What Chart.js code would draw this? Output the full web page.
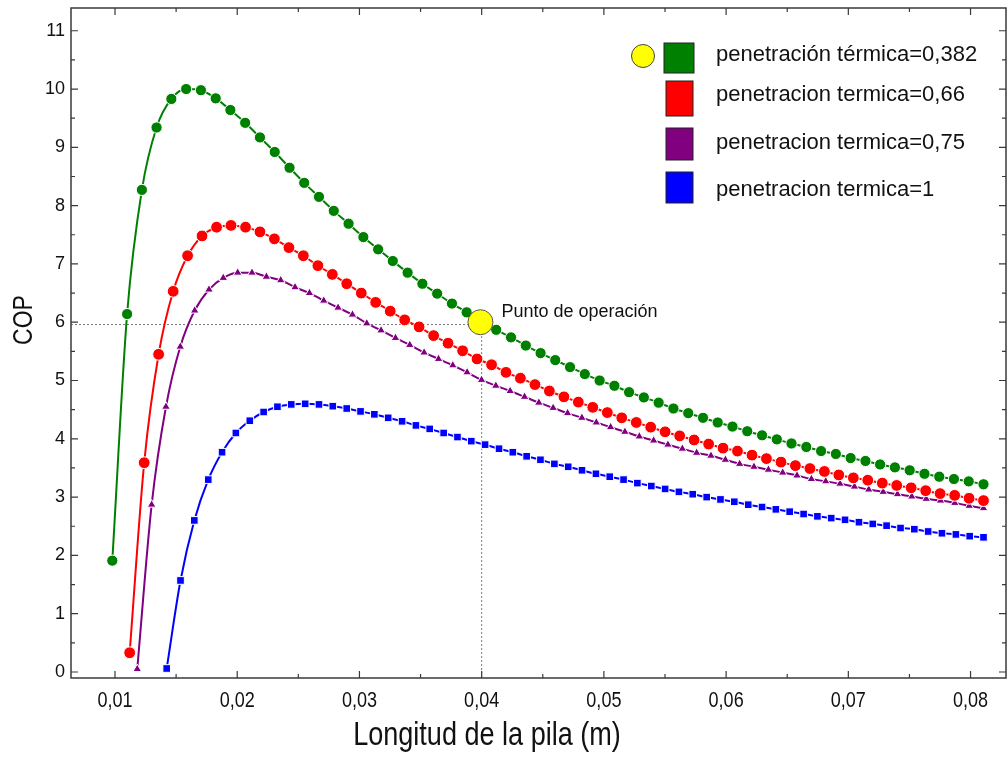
<!DOCTYPE html>
<html>
<head>
<meta charset="utf-8">
<title>COP vs longitud de la pila</title>
<script src="https://cdn.jsdelivr.net/npm/chart.js@4.4.1/dist/chart.umd.min.js"></script>
<style>
  body { margin: 0; background: #fff; overflow: hidden; }
  #wrap { position: relative; width: 1008px; height: 757px; }
  #mycanvas { display: block; }
</style>
</head>
<body>
<div id="wrap"><canvas id="mycanvas"></canvas></div>
<script>
// longitud de la pila (m) for each curve
var xTermica0382 = [0.00978, 0.01099, 0.01220, 0.01340, 0.01461, 0.01582, 0.01703, 0.01824, 0.01944, 0.02065,
  0.02186, 0.02307, 0.02428, 0.02548, 0.02669, 0.02790, 0.02911, 0.03032, 0.03153, 0.03273,
  0.03394, 0.03515, 0.03636, 0.03757, 0.03877, 0.03998, 0.04119, 0.04240, 0.04361, 0.04482,
  0.04602, 0.04723, 0.04844, 0.04965, 0.05086, 0.05206, 0.05327, 0.05448, 0.05569, 0.05690,
  0.05811, 0.05931, 0.06052, 0.06173, 0.06294, 0.06415, 0.06535, 0.06656, 0.06777, 0.06898,
  0.07019, 0.07140, 0.07260, 0.07381, 0.07502, 0.07623, 0.07744, 0.07864, 0.07985, 0.08106];
var copTermica0382 = [1.91, 6.14, 8.27, 9.34, 9.83, 10.00, 9.98, 9.84, 9.64, 9.42,
  9.17, 8.92, 8.65, 8.39, 8.15, 7.91, 7.69, 7.46, 7.25, 7.05,
  6.85, 6.66, 6.49, 6.32, 6.17, 6.01, 5.87, 5.74, 5.60, 5.47,
  5.35, 5.23, 5.11, 5.00, 4.91, 4.80, 4.71, 4.62, 4.52, 4.44,
  4.36, 4.28, 4.21, 4.13, 4.06, 3.99, 3.92, 3.86, 3.79, 3.74,
  3.67, 3.62, 3.56, 3.51, 3.46, 3.40, 3.35, 3.31, 3.27, 3.22];

var xTermica066 = [0.01120, 0.01239, 0.01357, 0.01476, 0.01594, 0.01712, 0.01831, 0.01949, 0.02068, 0.02186,
  0.02304, 0.02423, 0.02541, 0.02660, 0.02778, 0.02896, 0.03015, 0.03133, 0.03252, 0.03370,
  0.03488, 0.03607, 0.03725, 0.03844, 0.03962, 0.04081, 0.04199, 0.04317, 0.04436, 0.04554,
  0.04673, 0.04791, 0.04909, 0.05028, 0.05146, 0.05265, 0.05383, 0.05501, 0.05620, 0.05738,
  0.05857, 0.05975, 0.06093, 0.06212, 0.06330, 0.06449, 0.06567, 0.06686, 0.06804, 0.06922,
  0.07041, 0.07159, 0.07278, 0.07396, 0.07514, 0.07633, 0.07751, 0.07870, 0.07988, 0.08106];
var copTermica066 = [0.33, 3.59, 5.45, 6.53, 7.14, 7.48, 7.63, 7.66, 7.63, 7.55,
  7.43, 7.28, 7.14, 6.97, 6.82, 6.66, 6.50, 6.34, 6.19, 6.04,
  5.92, 5.77, 5.64, 5.51, 5.37, 5.27, 5.14, 5.04, 4.93, 4.82,
  4.72, 4.63, 4.54, 4.45, 4.36, 4.28, 4.20, 4.12, 4.05, 3.98,
  3.91, 3.84, 3.79, 3.72, 3.66, 3.60, 3.54, 3.49, 3.44, 3.38,
  3.33, 3.29, 3.24, 3.20, 3.16, 3.11, 3.06, 3.03, 2.98, 2.94];

var xTermica075 = [0.01182, 0.01300, 0.01417, 0.01534, 0.01652, 0.01769, 0.01886, 0.02004, 0.02121, 0.02239,
  0.02356, 0.02473, 0.02591, 0.02708, 0.02825, 0.02943, 0.03060, 0.03177, 0.03295, 0.03412,
  0.03529, 0.03647, 0.03764, 0.03881, 0.03999, 0.04116, 0.04233, 0.04351, 0.04468, 0.04585,
  0.04703, 0.04820, 0.04938, 0.05055, 0.05172, 0.05290, 0.05407, 0.05524, 0.05642, 0.05759,
  0.05876, 0.05994, 0.06111, 0.06228, 0.06346, 0.06463, 0.06580, 0.06698, 0.06815, 0.06932,
  0.07050, 0.07167, 0.07285, 0.07402, 0.07519, 0.07637, 0.07754, 0.07871, 0.07989, 0.08106];
var copTermica075 = [0.05, 2.87, 4.55, 5.58, 6.20, 6.56, 6.76, 6.85, 6.85, 6.78,
  6.72, 6.60, 6.50, 6.37, 6.25, 6.13, 5.98, 5.86, 5.73, 5.61,
  5.48, 5.37, 5.26, 5.14, 5.01, 4.91, 4.82, 4.72, 4.62, 4.53,
  4.44, 4.36, 4.28, 4.20, 4.12, 4.04, 3.97, 3.90, 3.83, 3.76,
  3.71, 3.64, 3.57, 3.52, 3.47, 3.42, 3.37, 3.31, 3.27, 3.23,
  3.18, 3.13, 3.09, 3.05, 3.01, 2.97, 2.94, 2.90, 2.85, 2.81];

var xTermica1 = [0.01423, 0.01536, 0.01649, 0.01763, 0.01876, 0.01989, 0.02103, 0.02216, 0.02329, 0.02442,
  0.02556, 0.02669, 0.02782, 0.02896, 0.03009, 0.03122, 0.03235, 0.03349, 0.03462, 0.03575,
  0.03689, 0.03802, 0.03915, 0.04028, 0.04142, 0.04255, 0.04368, 0.04481, 0.04595, 0.04708,
  0.04821, 0.04935, 0.05048, 0.05161, 0.05274, 0.05388, 0.05501, 0.05614, 0.05727, 0.05841,
  0.05954, 0.06067, 0.06181, 0.06294, 0.06407, 0.06520, 0.06634, 0.06747, 0.06860, 0.06973,
  0.07087, 0.07200, 0.07313, 0.07427, 0.07540, 0.07653, 0.07766, 0.07880, 0.07993, 0.08106];
var copTermica1 = [0.06, 1.57, 2.60, 3.30, 3.77, 4.10, 4.31, 4.46, 4.55, 4.59,
  4.60, 4.59, 4.56, 4.52, 4.47, 4.42, 4.36, 4.30, 4.23, 4.17,
  4.10, 4.03, 3.96, 3.90, 3.83, 3.77, 3.70, 3.64, 3.57, 3.52,
  3.46, 3.40, 3.35, 3.30, 3.24, 3.19, 3.14, 3.09, 3.05, 3.00,
  2.96, 2.92, 2.87, 2.83, 2.79, 2.75, 2.71, 2.67, 2.64, 2.61,
  2.57, 2.54, 2.51, 2.47, 2.45, 2.41, 2.38, 2.36, 2.33, 2.31];

// punto de operacion
var puntoX = [0.0399];
var puntoY = [6.0];
var guiaHorizX = [0.0064, 0.0399];
var guiaHorizY = [5.96, 5.96];
var guiaVertX = [0.04, 0.04];
var guiaVertY = [5.9, -0.103];

var leyendaTextos = ["penetración térmica=0,382", "penetracion termica=0,66",
  "penetracion termica=0,75", "penetracion termica=1"];
var leyendaColores = ["#008000", "#ff0000", "#800080", "#0000ff"];

var arial = '"Liberation Sans", Arial, sans-serif';

function puntos(xs, ys) {
  var out = [];
  for (var i in xs) {
    out.push({ x: xs[i], y: ys[i] });
  }
  return out;
}

function curva(label, xs, ys, color, forma, radio, orden) {
  return {
    label: label,
    data: puntos(xs, ys),
    showLine: true,
    borderColor: color,
    borderWidth: 2,
    backgroundColor: color,
    pointBackgroundColor: color,
    pointBorderColor: "#ffffff",
    pointBorderWidth: 1,
    pointStyle: forma,
    pointRadius: radio,
    cubicInterpolationMode: "monotone",
    order: orden
  };
}

// narrow text (Arial Narrow look) by squeezing Liberation Sans
function textoAngosto(ctx, txt, x, y, size, rot) {
  ctx.save();
  ctx.translate(x, y);
  if (rot) ctx.rotate(rot);
  ctx.scale(0.82, 1);
  ctx.font = size + "px " + arial;
  ctx.textAlign = "center";
  ctx.textBaseline = "middle";
  ctx.fillText(txt, 0, 0);
  ctx.restore();
}

var marcoPlugin = {
  id: "marco",
  afterDatasetsDraw: function(chart) {
    var ctx = chart.ctx;
    var a = chart.chartArea;
    var sx = chart.scales.x;
    var sy = chart.scales.y;
    ctx.save();
    ctx.strokeStyle = "#3a3a3a";
    ctx.lineWidth = 1.5;
    ctx.strokeRect(a.left, a.top, a.right - a.left, a.bottom - a.top);

    ctx.lineWidth = 1.2;
    ctx.beginPath();
    var xt = sx.ticks.map(function(t) { return t.value; });
    for (var i = 0; i < xt.length; i++) {
      var px = sx.getPixelForValue(xt[i]);
      ctx.moveTo(px, a.bottom); ctx.lineTo(px, a.bottom - 7);
      ctx.moveTo(px, a.top); ctx.lineTo(px, a.top + 7);
      var m = sx.getPixelForValue(xt[i] + 0.005);
      if (m < a.right) {
        ctx.moveTo(m, a.bottom); ctx.lineTo(m, a.bottom - 4);
        ctx.moveTo(m, a.top); ctx.lineTo(m, a.top + 4);
      }
    }
    var yt = sy.ticks.map(function(t) { return t.value; });
    for (var j = 0; j < yt.length; j++) {
      var py = sy.getPixelForValue(yt[j]);
      ctx.moveTo(a.left, py); ctx.lineTo(a.left + 7, py);
      ctx.moveTo(a.right, py); ctx.lineTo(a.right - 7, py);
      var my = sy.getPixelForValue(yt[j] + 0.5);
      if (my > a.top) {
        ctx.moveTo(a.left, my); ctx.lineTo(a.left + 4, my);
        ctx.moveTo(a.right, my); ctx.lineTo(a.right - 4, my);
      }
    }
    ctx.stroke();

    // etiquetas del eje x y titulos
    ctx.fillStyle = "#111";
    for (var t = 0; t < xt.length; t++) {
      textoAngosto(ctx, xt[t].toFixed(2).replace(".", ","), sx.getPixelForValue(xt[t]), a.bottom + 23, 22);
    }
    textoAngosto(ctx, "Longitud de la pila (m)", 487, 736, 33);
    textoAngosto(ctx, "COP", 24, 320, 28, -Math.PI / 2);

    // etiqueta del punto de operacion
    var ox = sx.getPixelForValue(puntoX[0]);
    var oy = sy.getPixelForValue(puntoY[0]);
    ctx.font = "18px " + arial;
    ctx.textAlign = "left";
    ctx.textBaseline = "middle";
    ctx.fillText("Punto de operación", ox + 21, oy - 10);

    // leyenda
    ctx.beginPath();
    ctx.arc(643, 56, 11.5, 0, Math.PI * 2);
    ctx.fillStyle = "#ffff00";
    ctx.fill();
    ctx.lineWidth = 1;
    ctx.strokeStyle = "#444";
    ctx.stroke();
    var cajas = [[664, 43, 30, 30], [666, 81, 27, 35], [666, 128, 27, 32], [666, 172, 27, 31]];
    var textoY = [55, 95, 143, 190];
    ctx.font = "22px " + arial;
    for (var k = 0; k < leyendaTextos.length; k++) {
      ctx.fillStyle = leyendaColores[k];
      ctx.fillRect(cajas[k][0], cajas[k][1], cajas[k][2], cajas[k][3]);
      ctx.strokeStyle = "#222";
      ctx.strokeRect(cajas[k][0], cajas[k][1], cajas[k][2], cajas[k][3]);
      ctx.fillStyle = "#111";
      ctx.fillText(leyendaTextos[k], 716, textoY[k]);
    }
    ctx.restore();
  }
};

var chartdata = {
  datasets: [
    {
      label: "Punto de operación",
      data: puntos(puntoX, puntoY),
      pointRadius: 12.5,
      pointBackgroundColor: "#ffff00",
      pointBorderColor: "#555",
      pointBorderWidth: 1,
      showLine: false,
      order: 0
    },
    curva("penetración térmica=0,382", xTermica0382, copTermica0382, "#008000", "circle", 5.6, 1),
    curva("penetracion termica=0,66", xTermica066, copTermica066, "#ff0000", "circle", 5.9, 2),
    curva("penetracion termica=0,75", xTermica075, copTermica075, "#800080", "triangle", 5, 3),
    curva("penetracion termica=1", xTermica1, copTermica1, "#0000ff", "rect", 5.4, 4),
    {
      label: "guia horizontal",
      data: puntos(guiaHorizX, guiaHorizY),
      showLine: true,
      borderColor: "#777",
      borderWidth: 1,
      borderDash: [2, 2],
      pointRadius: 0,
      order: 10
    },
    {
      label: "guia vertical",
      data: puntos(guiaVertX, guiaVertY),
      showLine: true,
      borderColor: "#777",
      borderWidth: 1,
      borderDash: [2, 2],
      pointRadius: 0,
      order: 10
    }
  ]
};

var ctx = document.getElementById("mycanvas");

var grafica = new Chart(ctx, {
  type: "scatter",
  data: chartdata,
  plugins: [marcoPlugin],
  options: {
    responsive: true,
    maintainAspectRatio: false,
    animation: false,
    layout: { autoPadding: false, padding: { left: 0, right: 2, top: 8, bottom: 0 } },
    plugins: {
      legend: { display: false },
      tooltip: { enabled: false }
    },
    scales: {
      x: {
        type: "linear",
        min: 0.0064,
        max: 0.0829,
        grid: { display: false, drawTicks: false },
        border: { display: false },
        ticks: {
          display: false,
          stepSize: 0.01,
          includeBounds: false,
          autoSkip: false,
          maxRotation: 0
        },
        afterFit: function(s) {
          s.height = 79;
          s.paddingLeft = 0;
          s.paddingRight = 0;
        }
      },
      y: {
        type: "linear",
        min: -0.103,
        max: 11.39,
        grid: { display: false, drawTicks: false },
        border: { display: false },
        ticks: {
          stepSize: 1,
          includeBounds: false,
          autoSkip: false,
          padding: 6,
          color: "#111",
          font: { family: arial, size: 18 }
        },
        afterFit: function(s) {
          s.width = 71;
          s.paddingTop = 0;
          s.paddingBottom = 0;
        }
      }
    }
  }
});
</script>
</body>
</html>
